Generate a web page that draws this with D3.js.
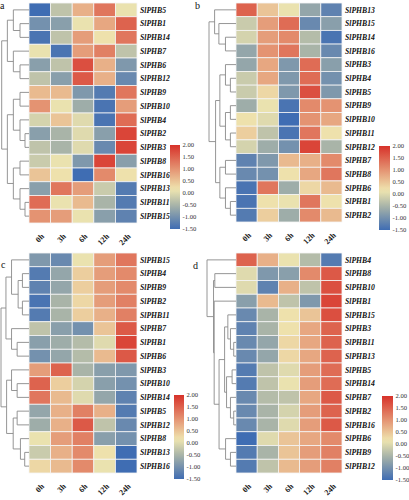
<!DOCTYPE html>
<html><head><meta charset="utf-8">
<script src="https://cdn.jsdelivr.net/npm/d3@7"></script>
<style>body{margin:0;background:#fff}svg{display:block}
text{font-family:"Liberation Serif","Times New Roman",Times,serif}</style>
</head><body><svg id="c" width="409" height="500"></svg>
<script>
const timePoints = ["0h","3h","6h","12h","24h"];
const legendTicks = [2.0,1.5,1.0,0.5,0.0,-0.5,-1.0,-1.5];

const genesA = ["SlPHB5","SlPHB1","SlPHB14","SlPHB7","SlPHB6","SlPHB12","SlPHB9","SlPHB10","SlPHB4","SlPHB2","SlPHB3","SlPHB8","SlPHB16","SlPHB13","SlPHB11","SlPHB15"];
const valuesA = [
 [-1.5,-0.3,0.7,1.3,0.1],[-1.0,-0.8,0.1,0.8,1.5],[-1.4,-0.3,0.9,0.2,1.3],[0.1,-1.4,0.9,1.2,-0.3],
 [-0.8,-0.3,1.7,0.7,-0.9],[-0.3,-0.8,1.6,0.7,-1.1],[0.6,0.6,-0.9,-1.3,1.3],[1.0,0.1,-0.6,-1.4,0.9],
 [-0.1,0.5,0.0,-1.4,1.4],[-0.8,-0.5,0.0,-0.8,1.8],[-0.3,-0.5,0.0,-1.1,1.8],[-0.2,0.1,-0.9,1.8,-0.8],
 [0.5,0.2,-1.5,1.1,0.2],[-0.8,1.3,0.9,-0.2,-1.3],[1.4,0.1,0.6,-0.5,-1.3],[1.0,0.9,0.1,-0.8,-1.2]];
const treeA = [82,[65,[47,0,[27,1,2]],[47,3,[27,4,5]]],[65,[47,[27,6,7],[27,8,[12,9,10]]],[47,[27,11,12],[27,13,[12,14,15]]]]];

const genesB = ["SlPHB13","SlPHB15","SlPHB14","SlPHB16","SlPHB3","SlPHB4","SlPHB5","SlPHB9","SlPHB10","SlPHB11","SlPHB12","SlPHB7","SlPHB8","SlPHB6","SlPHB1","SlPHB2"];
const valuesB = [
 [1.5,0.5,0.1,-0.7,-1.2],[-0.2,0.9,1.4,-1.1,-0.8],[-0.1,0.9,1.1,-0.4,-1.4],[-0.7,1.0,1.3,-0.5,-1.1],
 [-0.7,0.8,-0.9,1.4,-0.8],[-0.2,0.8,-0.9,1.4,-1.0],[-0.2,0.3,-0.9,1.7,-0.9],[-0.6,0.1,-1.4,1.1,1.0],
 [0.2,0.0,-1.5,1.0,0.8],[0.4,-0.3,-1.4,1.3,0.2],[-0.1,-0.6,-1.0,1.8,-0.5],[-1.2,-0.9,0.6,0.7,1.1],
 [-1.1,-1.0,0.2,0.8,1.3],[-1.4,1.3,-0.6,0.3,0.6],[-1.4,0.2,0.1,1.3,0.2],[-1.3,0.4,-0.6,1.1,0.6]];
const treeB = [82,[65,0,[52,1,[32,2,3]]],[62,[49,[32,4,[17,5,6]],[32,[17,7,8],[17,9,10]]],[49,[32,11,12],[32,13,[17,14,15]]]]];

const genesC = ["SlPHB15","SlPHB4","SlPHB9","SlPHB2","SlPHB11","SlPHB7","SlPHB1","SlPHB6","SlPHB3","SlPHB10","SlPHB14","SlPHB5","SlPHB12","SlPHB8","SlPHB13","SlPHB16"];
const valuesC = [
 [-0.9,-1.1,0.1,0.9,1.3],[-1.3,-0.7,0.4,0.9,1.1],[-1.2,-0.7,0.4,0.9,1.1],[-1.4,-0.5,0.3,0.9,1.2],
 [-1.3,-0.5,0.4,0.7,1.2],[-0.3,-0.8,-1.0,0.5,1.6],[-0.8,-0.6,-0.4,0.0,1.8],[-1.0,-0.7,-0.4,0.6,1.6],
 [0.9,1.5,-0.5,-0.8,-0.9],[1.5,0.4,-0.1,-0.8,-1.0],[1.3,0.6,0.0,-0.7,-1.2],[-0.7,0.7,1.2,0.7,-1.3],
 [-0.6,0.7,1.6,-0.3,-1.1],[0.1,0.9,1.2,-0.8,-1.0],[-0.2,0.7,1.1,0.2,-1.5],[0.3,0.6,1.1,0.1,-1.5]];
const treeC = [85,[70,[53,0,[33,[20,1,2],[20,3,4]]],[53,5,[36,6,7]]],[68,[53,8,[36,9,10]],[48,[36,11,12],[26,13,[13,14,15]]]]];

const genesD = ["SlPHB4","SlPHB8","SlPHB10","SlPHB1","SlPHB15","SlPHB3","SlPHB11","SlPHB13","SlPHB5","SlPHB14","SlPHB7","SlPHB2","SlPHB16","SlPHB6","SlPHB9","SlPHB12"];
const valuesD = [
 [1.5,0.7,0.1,-0.4,-1.3],[0.0,-0.9,-0.8,1.1,1.6],[0.0,-1.2,0.7,-0.3,1.7],[-0.8,0.6,-0.3,-0.9,1.8],
 [-1.1,-0.5,0.2,0.5,1.7],[-1.2,-0.5,0.2,0.8,1.5],[-1.1,-0.7,0.3,0.8,1.5],[-1.1,-0.7,0.3,0.8,1.5],
 [-1.3,-0.3,0.0,0.9,1.4],[-1.3,-0.3,0.1,0.9,1.4],[-1.1,-0.4,-0.3,0.8,1.6],[-1.1,-0.5,-0.1,0.9,1.5],
 [-1.1,-0.5,0.0,0.9,1.6],[-1.5,0.0,0.5,0.8,1.1],[-1.3,-0.5,0.5,0.9,1.2],[-1.3,-0.3,0.6,0.9,1.2]];
const treeD = [89,0,[69,[65,1,2],[67,3,[52,[35,[25,4,[17,5,[7,6,7]]],[29,[12,8,9],[17,10,[7,11,12]]]],[32,13,[17,14,15]]]]]];

const color = d3.scaleLinear().domain([-1.5,-0.5,0.15,2]).range(["#3f6db3","#a9b4a8","#efe6b0","#d7322a"]).clamp(true);

const panels = [
 {letter:"a",lx:0,ly:9,genes:genesA,values:valuesA,tree:treeA,hx0:29,hx1:137,hy0:3,hy1:223,root:1.7,lgx:170,lgy0:145,lgy1:229,lgw:10},
 {letter:"b",lx:195,ly:9,genes:genesB,values:valuesB,tree:treeB,hx0:236,hx1:342,hy0:3,hy1:222,root:209,lgx:379,lgy0:146,lgy1:230,lgw:11},
 {letter:"c",lx:1,ly:268,genes:genesC,values:valuesC,tree:treeC,hx0:29,hx1:137,hy0:253,hy1:473,root:1,lgx:174,lgy0:395,lgy1:479,lgw:10},
 {letter:"d",lx:193,ly:269,genes:genesD,values:valuesD,tree:treeD,hx0:236,hx1:342,hy0:253,hy1:473,root:207,lgx:382,lgy0:396,lgy1:480,lgw:11}
];

const svg = d3.select("#c");
const defs = svg.append("defs");
const grad = defs.append("linearGradient").attr("id","lg").attr("x1",0).attr("y1",1).attr("x2",0).attr("y2",0);
d3.range(0,1.0001,0.05).forEach(t=>{
  grad.append("stop").attr("offset",t).attr("stop-color",color(-1.5+3.5*t));
});

panels.forEach((p,pi)=>{
  const g = svg.append("g");
  const x = d3.scaleBand().domain(timePoints).range([p.hx0,p.hx1]);
  const y = d3.scaleBand().domain(d3.range(p.genes.length)).range([p.hy0,p.hy1]);
  const cells = [];
  p.values.forEach((row,i)=>row.forEach((v,j)=>cells.push({i,j,v})));
  g.selectAll("rect.cell").data(cells).join("rect")
    .attr("x",d=>x(timePoints[d.j])).attr("y",d=>y(d.i))
    .attr("width",x.bandwidth()).attr("height",y.bandwidth())
    .attr("fill",d=>color(d.v)).attr("stroke","#f4f4f4").attr("stroke-width",0.8);
  g.selectAll("text.gene").data(p.genes).join("text")
    .attr("x",p.hx1+3).attr("y",(d,i)=>y(i)+y.bandwidth()/2+2.8)
    .attr("font-weight","bold").attr("font-style","italic")
    .attr("font-size",7.7).attr("fill","#111").text(d=>d);
  g.selectAll("text.col").data(timePoints).join("text")
    .attr("transform",d=>`translate(${x(d)+x.bandwidth()/2+1},${p.hy1+10}) rotate(-45)`)
    .attr("text-anchor","end").attr("dy","0.7em")
    .attr("font-weight","bold")
    .attr("font-size",8).attr("fill","#222").text(d=>d);
  const maxH = p.tree[0];
  const dx = h => p.hx0 - (h/maxH)*(p.hx0 - p.root);
  const lines = [];
  function walk(n){
    if(typeof n === "number") return {x:p.hx0, y:y(n)+y.bandwidth()/2};
    const a = walk(n[1]), b = walk(n[2]);
    const nx = dx(n[0]);
    lines.push([nx,a.y,nx,b.y]);
    lines.push([nx,a.y,a.x,a.y]);
    lines.push([nx,b.y,b.x,b.y]);
    return {x:nx, y:(a.y+b.y)/2};
  }
  walk(p.tree);
  g.selectAll("line.d").data(lines).join("line")
    .attr("x1",d=>d[0]).attr("y1",d=>d[1]).attr("x2",d=>d[2]).attr("y2",d=>d[3])
    .attr("stroke","#8a8a8a").attr("stroke-width",0.9);
  g.append("rect").attr("x",p.lgx).attr("y",p.lgy0).attr("width",p.lgw).attr("height",p.lgy1-p.lgy0)
    .attr("fill","url(#lg)");
  const ly = d3.scaleLinear().domain([-1.5,2]).range([p.lgy1,p.lgy0]);
  g.selectAll("text.lt").data(legendTicks).join("text")
    .attr("x",p.lgx+p.lgw+2.5).attr("y",d=>ly(d)+2.2)
    .attr("font-size",6.6).attr("fill","#333")
    .text(d=>d3.format(".2f")(d).replace("−","-"));
  g.append("text").attr("x",p.lx).attr("y",p.ly)
    .attr("font-size",10).attr("fill","#111").text(p.letter);
});
</script></body></html>
